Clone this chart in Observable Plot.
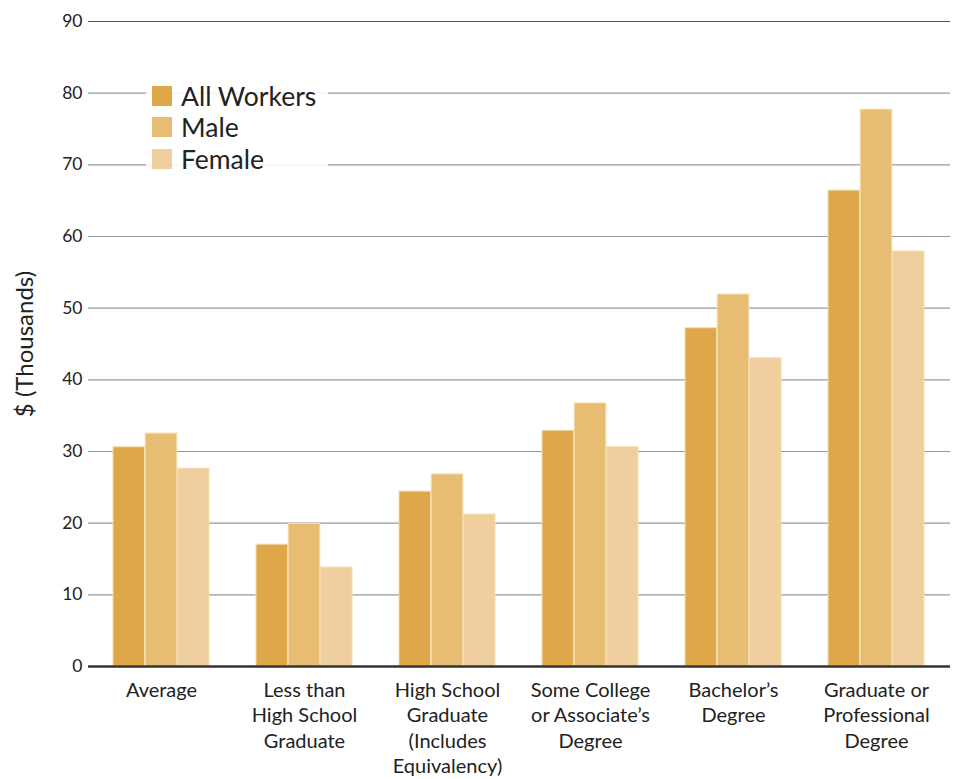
<!DOCTYPE html>
<html>
<head>
<meta charset="utf-8">
<script src="https://cdn.jsdelivr.net/npm/d3@7"></script>
<script src="https://cdn.jsdelivr.net/npm/@observablehq/plot@0.6"></script>
<style>
  body { margin: 0; background: #fff; font-family: Lato, "Open Sans", sans-serif; }
  #wrap { position: relative; width: 959px; height: 779px; }
  #legend { position: absolute; left: 146px; top: 78px; background: rgba(255,255,255,0.88); padding: 2px 12px 2px 6px; }
  .row { display: flex; align-items: center; height: 31.5px; font-size: 26.5px; color: #222; }
  .sw { width: 20px; height: 20px; margin-right: 9px; }
</style>
</head>
<body>
<div id="wrap"><div id="legend"></div></div>
<script>
const categories = ["Average", "Less than\nHigh School\nGraduate", "High School\nGraduate\n(Includes\nEquivalency)", "Some College\nor Associate’s\nDegree", "Bachelor’s\nDegree", "Graduate or\nProfessional\nDegree"];
const seriesNames = ["All Workers", "Male", "Female"];
const allWorkers = [30.6, 17.0, 24.4, 32.9, 47.2, 66.4];
const male = [32.5, 19.9, 26.8, 36.7, 51.9, 77.7];
const female = [27.6, 13.8, 21.2, 30.6, 43.0, 57.9];
const colors = ["#dea84a", "#e6bd73", "#efcf9d"];
const yTicks = [0, 10, 20, 30, 40, 50, 60, 70, 80, 90];

const W = 959, H = 779, mL = 88, mR = 9, mT = 21, mB = 113;
const pInner = 0.327, pOuter = 0.165;
const step = (W - mL - mR) / (categories.length - pInner + 2 * pOuter);
const bandW = step * (1 - pInner);
const sub = bandW / seriesNames.length;

const seriesValues = [allWorkers, male, female];
const barMarks = seriesNames.map((s, j) => {
  const rows = categories.map((c, i) => ({category: c, series: s, value: seriesValues[j][i]}));
  return Plot.barY(rows, {
    x: "category", y: "value", fill: colors[j],
    stroke: "#f6dcae", strokeWidth: 1,
    insetLeft: j * sub, insetRight: (seriesNames.length - 1 - j) * sub
  });
});

const chart = Plot.plot({
  width: W,
  height: H,
  marginLeft: mL,
  marginRight: mR,
  marginTop: mT,
  marginBottom: mB,
  style: {fontFamily: "Lato, 'Open Sans', sans-serif", background: "#fff"},
  x: {domain: categories, paddingInner: pInner, paddingOuter: pOuter},
  y: {domain: [0, 90]},
  marks: [
    Plot.gridY(yTicks, {stroke: d => d === 90 ? "#555" : "#999", strokeOpacity: 1, strokeWidth: 1.2}),
    Plot.axisY(yTicks, {tickSize: 0, tickPadding: 6, fontSize: 17.5, fill: "#222", label: "$ (Thousands)", labelAnchor: "center", labelArrow: "none", labelOffset: 73}),
    ...barMarks,
    Plot.ruleY([0], {stroke: "#333", strokeWidth: 2.5}),
    Plot.axisX({anchor: "bottom", tickSize: 0, tickPadding: 12, fontSize: 20, fill: "#222", lineHeight: 1.28, label: null})
  ]
});
chart.querySelectorAll("text").forEach(t => {
  if (t.textContent.includes("Thousands")) { t.style.fontSize = "24px"; }
});
document.getElementById("wrap").prepend(chart);

const legend = document.getElementById("legend");
seriesNames.forEach((s, i) => {
  const r = document.createElement("div");
  r.className = "row";
  r.innerHTML = `<span class="sw" style="background:${colors[i]}"></span><span>${s}</span>`;
  legend.appendChild(r);
});
</script>
</body>
</html>
